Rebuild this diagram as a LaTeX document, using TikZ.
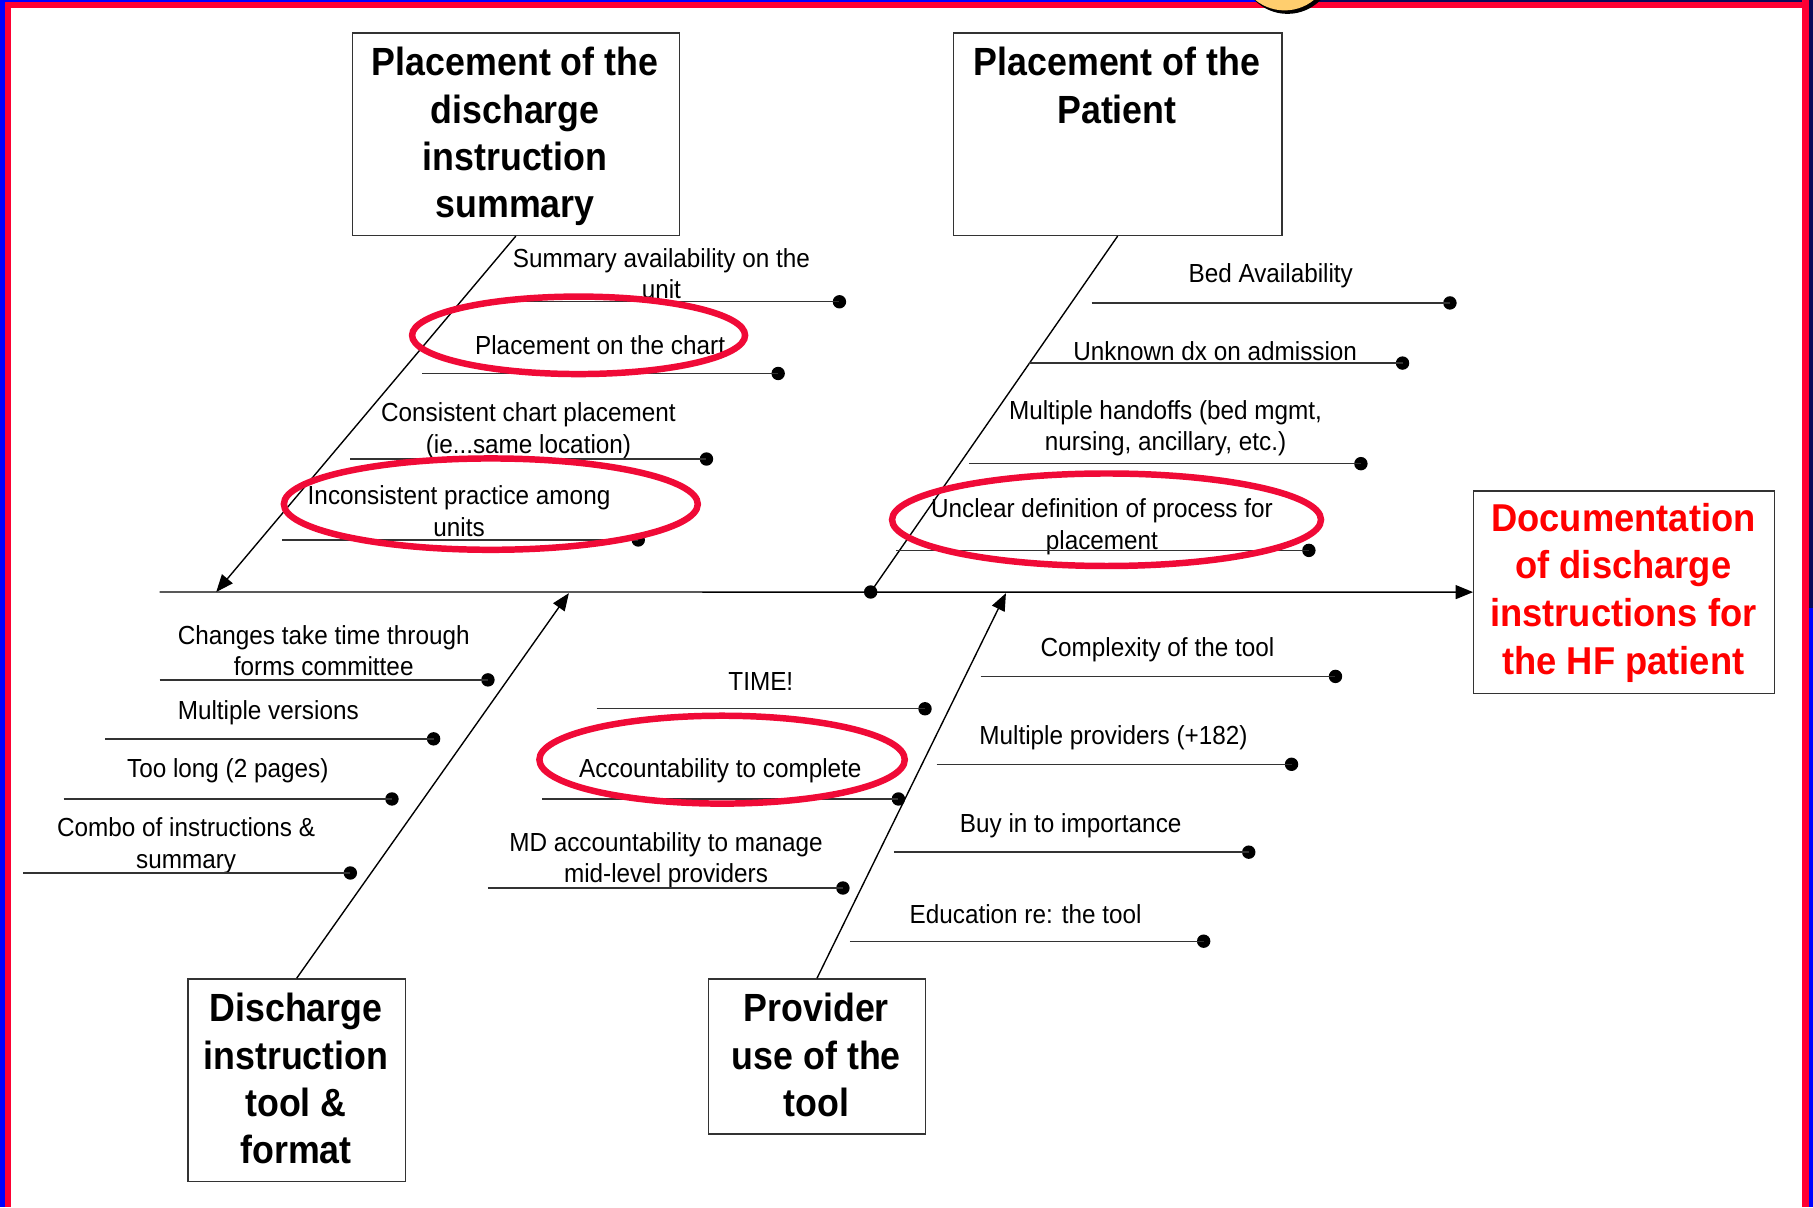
\documentclass[tikz,border=0pt]{standalone}
\usepackage{fontspec}
\setmainfont{Liberation Sans}
\newfontfamily\smallf[FakeStretch=0.93]{Liberation Sans}
\newfontfamily\boxf[FakeStretch=0.91]{Liberation Sans Bold}
\newfontfamily\efff[FakeStretch=0.935]{Liberation Sans Bold}
\usetikzlibrary{arrows.meta}
\definecolor{bordred}{RGB}{255,0,51}
\definecolor{bordblue}{RGB}{0,0,255}
\definecolor{bordnavy}{RGB}{10,10,90}
\definecolor{ellred}{RGB}{240,10,55}
\definecolor{sunyellow}{RGB}{255,206,110}
\definecolor{textred}{RGB}{255,0,0}
\tikzset{
  box/.style={draw=black!80, line width=0.6pt, inner sep=0pt, anchor=north west},
  boxtext/.style={font=\boxf\fontsize{17}{20.5}\selectfont, align=center, inner sep=0pt, anchor=north},
  efftext/.style={font=\efff\fontsize{16.8}{20.6}\selectfont, text=textred, align=center, inner sep=0pt, anchor=north},
  cause/.style={font=\smallf\fontsize{11.3}{13.5}\selectfont, align=center, inner sep=0pt},
  subline/.style={draw=black!80, line width=0.6pt},
  dotend/.style={circle, fill=black, inner sep=0pt, minimum size=5.8pt},
  bone/.style={draw=black, line width=0.6pt},
  tip/.style={-{Triangle[length=7.5pt,width=6pt]}},
  hl/.style={draw=ellred, line width=2.8pt},
}
\begin{document}
\begin{tikzpicture}[x=0.5pt,y=-0.5pt]
\useasboundingbox (0,0) rectangle (1568,1044);
\fill[white] (0,0) rectangle (1568,1044);
% frame
\begin{scope}
\clip (0,0) rectangle (1568,1044);
\fill[bordblue] (0,0) rectangle (4.3,1044);
\fill[bordred] (4.3,0) rectangle (9.5,1044);
\fill[bordblue] (0,0) rectangle (1090,1.6);
\fill[bordnavy] (1090,0) rectangle (1568,1.6);
\fill[bordred] (4.3,1.6) rectangle (1564.5,6.5);
\fill[bordred] (1558.5,0) rectangle (1564.5,1044);
\fill[bordnavy] (1564.5,0) rectangle (1568,526);
\fill[bordblue] (1564.5,526) rectangle (1568,1044);
\fill[black] (1113.5,-28) circle[radius=40];
\fill[sunyellow] (1111,-31) circle[radius=40];
\end{scope}

% category boxes
\node[box, minimum width=141.5pt, minimum height=87.5pt] (B1) at (304,28) {};
\node[box, minimum width=142pt, minimum height=87.5pt] (B2) at (824,28) {};
\node[box, minimum width=94pt, minimum height=87.5pt] (B3) at (162,846) {};
\node[box, minimum width=94pt, minimum height=67pt] (B4) at (612,846) {};
\node[box, minimum width=130pt, minimum height=87.5pt] (E) at (1274,424) {};

\node[boxtext] (B1t) at (445.5,40.5) {Placement of the\\discharge\\instruction\\summary};
\node[boxtext] (B2t) at (966,40.5) {Placement of the\\Patient};
\node[boxtext] (B3t) at (256,858.5) {Discharge\\instruction\\tool \&\\format};
\node[boxtext] (B4t) at (706,858.5) {Provider\\use of the\\tool};
\node[efftext] (Et) at (1404,434.8) {Documentation\\of discharge\\instructions for\\the HF patient};

% spine and bones
\coordinate (sp0) at (138,512);
\coordinate (s1) at (187,512);
\coordinate (s3) at (492,513);
\coordinate (s4) at (870,513);
\node[dotend] (s2) at (753,512) {};
\draw[bone, tip] (sp0) -- (E.west);
\draw[bone, tip] (B1.south) -- (s1);
\draw[bone] (B2.south) -- (s2.center);
\draw[bone, tip] (B3.north) -- (s3);
\draw[bone, tip] (B4.north) -- (s4);

% upper-left causes
\node[cause] (tUL1) at (572,237) {Summary availability on the\\unit};
\coordinate (aUL1) at (418,261); \node[dotend] (dUL1) at (726,261) {};
\draw[subline] (aUL1) -- (dUL1.center);
\node[cause] (tUL2) at (519,298.5) {Placement on the chart};
\coordinate (aUL2) at (365,323); \node[dotend] (dUL2) at (673,323) {};
\draw[subline] (aUL2) -- (dUL2.center);
\node[cause] (tUL3) at (457,372.5) {Consistent chart placement\\(ie...same location)};
\coordinate (aUL3) at (303,397); \node[dotend] (dUL3) at (611,397) {};
\draw[subline] (aUL3) -- (dUL3.center);
\node[cause] (tUL4) at (397,442) {Inconsistent practice among\\units};
\coordinate (aUL4) at (244,467); \node[dotend] (dUL4) at (552,467) {};
\draw[subline] (aUL4) -- (dUL4.center);

% upper-right causes
\node[cause] (tUR1) at (1099,238.5) {Bed Availability};
\coordinate (aUR1) at (944,262); \node[dotend] (dUR1) at (1254,262) {};
\draw[subline] (aUR1) -- (dUR1.center);
\node[cause] (tUR2) at (1051,303.5) {Unknown dx on admission};
\coordinate (aUR2) at (890,314); \node[dotend] (dUR2) at (1213,314) {};
\draw[subline] (aUR2) -- (dUR2.center);
\node[cause] (tUR3) at (1008,370.5) {Multiple handoffs (bed mgmt,\\nursing, ancillary, etc.)};
\coordinate (aUR3) at (838,401); \node[dotend] (dUR3) at (1177,401) {};
\draw[subline] (aUR3) -- (dUR3.center);
\node[cause] (tUR4) at (953,455.5) {Unclear definition of process for\\placement};
\coordinate (aUR4) at (775,476); \node[dotend] (dUR4) at (1132,476) {};
\draw[subline] (aUR4) -- (dUR4.center);

% lower-left causes
\node[cause] (tLL1) at (280,563) {Changes take time through\\forms committee};
\coordinate (aLL1) at (138,588); \node[dotend] (dLL1) at (422,588) {};
\draw[subline] (aLL1) -- (dLL1.center);
\node[cause] (tLL2) at (232,616.5) {Multiple versions};
\coordinate (aLL2) at (91,639); \node[dotend] (dLL2) at (375,639) {};
\draw[subline] (aLL2) -- (dLL2.center);
\node[cause] (tLL3) at (197,667) {Too long (2 pages)};
\coordinate (aLL3) at (55,691); \node[dotend] (dLL3) at (339,691) {};
\draw[subline] (aLL3) -- (dLL3.center);
\node[cause] (tLL4) at (161,731.5) {Combo of instructions \&\\summary};
\coordinate (aLL4) at (20,755); \node[dotend] (dLL4) at (303,755) {};
\draw[subline] (aLL4) -- (dLL4.center);

% lower-middle causes
\node[cause] (tLM1) at (658,589) {TIME!};
\coordinate (aLM1) at (516,613); \node[dotend] (dLM1) at (800,613) {};
\draw[subline] (aLM1) -- (dLM1.center);
\node[cause] (tLM2) at (623,667) {Accountability to complete};
\coordinate (aLM2) at (469,691); \node[dotend] (dLM2) at (777,691) {};
\draw[subline] (aLM2) -- (dLM2.center);
\node[cause] (tLM3) at (576,744) {MD accountability to manage\\mid-level providers};
\coordinate (aLM3) at (422,768); \node[dotend] (dLM3) at (729,768) {};
\draw[subline] (aLM3) -- (dLM3.center);

% lower-right causes
\node[cause] (tLR1) at (1001,562) {Complexity of the tool};
\coordinate (aLR1) at (848,585); \node[dotend] (dLR1) at (1155,585) {};
\draw[subline] (aLR1) -- (dLR1.center);
\node[cause] (tLR2) at (963,638) {Multiple providers (+182)};
\coordinate (aLR2) at (810,661); \node[dotend] (dLR2) at (1117,661) {};
\draw[subline] (aLR2) -- (dLR2.center);
\node[cause] (tLR3) at (926,714) {Buy in to importance};
\coordinate (aLR3) at (773,737); \node[dotend] (dLR3) at (1080,737) {};
\draw[subline] (aLR3) -- (dLR3.center);
\node[cause] (tLR4) at (887,791) {Education re: the tool};
\coordinate (aLR4) at (735,814); \node[dotend] (dLR4) at (1041,814) {};
\draw[subline] (aLR4) -- (dLR4.center);

% highlight ellipses
\draw[hl] (500.4,290) ellipse[x radius=144, y radius=33.5];
\draw[hl] (424.5,436) ellipse[x radius=179, y radius=39.5];
\draw[hl] (957,449.5) ellipse[x radius=185.5, y radius=40];
\draw[hl] (624.5,657) ellipse[x radius=158, y radius=38];
\end{tikzpicture}
\end{document}
